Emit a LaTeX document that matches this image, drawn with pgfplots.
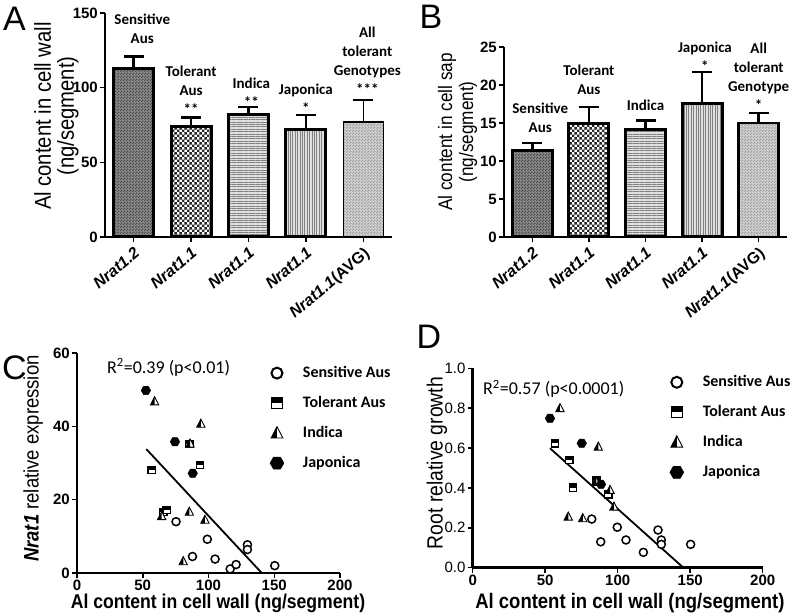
\documentclass[border=0pt]{standalone}
\usepackage{fontspec}
\setmainfont{Liberation Sans}
\newfontfamily\narrowfont[FakeStretch=0.88]{Liberation Sans}
\newfontfamily\calib{Carlito}
\usepackage{pgfplots}
\pgfplotsset{compat=1.18}
\usetikzlibrary{patterns,patterns.meta}

% checker patterns for the bars
\pgfdeclarepatternformonly{checkA}{\pgfpointorigin}{\pgfpoint{5.4pt}{5.4pt}}{\pgfpoint{5.4pt}{5.4pt}}{%
  \pgfpathrectangle{\pgfpointorigin}{\pgfpoint{2.7pt}{2.7pt}}%
  \pgfpathrectangle{\pgfpoint{2.7pt}{2.7pt}}{\pgfpoint{2.7pt}{2.7pt}}%
  \pgfusepath{fill}}
\pgfdeclarepatternformonly{checkfine}{\pgfpointorigin}{\pgfpoint{2.6pt}{2.6pt}}{\pgfpoint{2.6pt}{2.6pt}}{%
  \pgfpathrectangle{\pgfpointorigin}{\pgfpoint{1.3pt}{1.3pt}}%
  \pgfpathrectangle{\pgfpoint{1.3pt}{1.3pt}}{\pgfpoint{1.3pt}{1.3pt}}%
  \pgfusepath{fill}}

% scatter marks
\pgfdeclareplotmark{tolsq}{%
  \pgfsetfillcolor{white}%
  \pgfpathrectangle{\pgfpoint{-\pgfplotmarksize}{-\pgfplotmarksize}}{\pgfpoint{2\pgfplotmarksize}{2\pgfplotmarksize}}%
  \pgfusepathqfillstroke
  \pgfsetfillcolor{black}%
  \pgfpathrectangle{\pgfpoint{-\pgfplotmarksize}{0pt}}{\pgfpoint{2\pgfplotmarksize}{\pgfplotmarksize}}%
  \pgfusepathqfill}
\pgfdeclareplotmark{halftri}{%
  \pgfsetfillcolor{white}%
  \pgfpathmoveto{\pgfpoint{0pt}{\pgfplotmarksize}}%
  \pgfpathlineto{\pgfpoint{-0.9\pgfplotmarksize}{-0.75\pgfplotmarksize}}%
  \pgfpathlineto{\pgfpoint{0.9\pgfplotmarksize}{-0.75\pgfplotmarksize}}%
  \pgfpathclose
  \pgfusepathqfillstroke
  \pgfsetfillcolor{black}%
  \pgfpathmoveto{\pgfpoint{0pt}{\pgfplotmarksize}}%
  \pgfpathlineto{\pgfpoint{-0.9\pgfplotmarksize}{-0.75\pgfplotmarksize}}%
  \pgfpathlineto{\pgfpoint{0pt}{-0.75\pgfplotmarksize}}%
  \pgfpathclose
  \pgfusepathqfill}
\pgfdeclareplotmark{hexa}{%
  \pgfpathmoveto{\pgfpointpolar{0}{\pgfplotmarksize}}%
  \pgfpathlineto{\pgfpointpolar{60}{\pgfplotmarksize}}%
  \pgfpathlineto{\pgfpointpolar{120}{\pgfplotmarksize}}%
  \pgfpathlineto{\pgfpointpolar{180}{\pgfplotmarksize}}%
  \pgfpathlineto{\pgfpointpolar{240}{\pgfplotmarksize}}%
  \pgfpathlineto{\pgfpointpolar{300}{\pgfplotmarksize}}%
  \pgfpathclose
  \pgfusepathqfillstroke}

\tikzset{
  lbl/.style={anchor=south, align=center, inner sep=0pt,
    font=\calib\bfseries\fontsize{15}{19}\selectfont},
  letter/.style={inner sep=0pt, font=\fontsize{34}{34}\selectfont},
}

\pgfplotsset{
  panel/.style={
    scale only axis, anchor=south west, clip=false,
    axis lines*=left, axis line style={line width=2.5pt},
    tick align=outside, major tick length=5pt,
    tick style={line width=1.5pt, black},
    /pgf/number format/assume math mode=true,
    yticklabel style={font=\bfseries\fontsize{15}{15}\selectfont, inner sep=2pt},
  },
  barpanel/.style={panel,
    xmin=-0.5, xmax=4.5, xtick={0,...,4},
    xticklabels={\textit{Nrat1.2},\textit{Nrat1.1},\textit{Nrat1.1},\textit{Nrat1.1},\textit{Nrat1.1}(AVG)},
    xticklabel style={rotate=40, anchor=north east, inner sep=3pt,
      font=\bfseries\fontsize{16}{16}\selectfont},
    ybar, bar width=40pt, bar shift=0pt,
    ylabel style={anchor=center, align=center,
      font=\narrowfont\fontsize{23}{23}\selectfont},
    every axis plot/.append style={line width=3pt, draw=black},
    error bars/y dir=plus, error bars/y explicit,
    error bars/error bar style={line width=2.5pt},
    error bars/error mark options={rotate=90, mark size=10pt, line width=2.5pt},
  },
  scatpanel/.style={panel,
    xmin=0, xmax=200, xtick={0,50,100,150,200},
    xticklabel style={font=\bfseries\fontsize{15}{15}\selectfont, inner sep=2pt},
    xlabel style={anchor=center, font=\narrowfont\bfseries\fontsize{21}{21}\selectfont},
    ylabel style={anchor=center, font=\narrowfont\fontsize{22}{22}\selectfont},
    legend style={draw=none, fill=none, anchor=north west, inner sep=0pt,
      column sep=17pt, row sep=10pt,
      nodes={inner sep=2pt, text height=12pt, text depth=4pt},
      font=\calib\bfseries\fontsize{16}{16}\selectfont},
    legend cell align=left,
  },
  sens/.style={only marks, mark=*, mark size=4pt, mark options={fill=white, draw=black, line width=1.5pt}},
  tol/.style={only marks, mark=tolsq, mark size=3.7pt, mark options={draw=black, line width=1.1pt}},
  ind/.style={only marks, mark=halftri, mark size=4.6pt, mark options={draw=black, line width=0.9pt}},
  jap/.style={only marks, mark=hexa, mark size=4.8pt, mark options={fill=black, draw=black}},
}

\begin{document}
\begin{tikzpicture}
\path[use as bounding box] (0,0) rectangle (793pt,614pt);

% ---------------- A ----------------
\begin{axis}[barpanel, at={(105pt,377pt)}, width=287pt, height=224pt,
    ymin=0, ymax=150, ytick={0,50,100,150},
    ylabel={Al content in cell wall\\(ng/segment)},
    ylabel style={at={(axis description cs:-0.169,0.54)}}]
  \addplot[fill=black!45, postaction={pattern=checkfine, pattern color=black!72}]
    coordinates {(0,113) +- (0,8)};
  \addplot[fill=white, postaction={pattern=checkA, pattern color=black!85}]
    coordinates {(1,74.3) +- (0,5.7)};
  \addplot[fill=black!12, postaction={pattern={Lines[angle=0,distance=2.4pt,line width=1pt]}, pattern color=black!50}]
    coordinates {(2,81.7) +- (0,5.3)};
  \addplot[fill=black!12, postaction={pattern={Lines[angle=90,distance=2.4pt,line width=1pt]}, pattern color=black!50}]
    coordinates {(3,72.3) +- (0,9.4)};
  \addplot[line width=1.5pt, fill=black!18, postaction={pattern=checkfine, pattern color=black!38},
    error bars/error bar style={line width=1.3pt},
    error bars/error mark options={rotate=90, mark size=10pt, line width=1.3pt}]
    coordinates {(4,77) +- (0,14.7)};
  \node[lbl] at (axis cs:0.15,129.2) {Sensitive\\Aus};
  \node[lbl] at (axis cs:1,81.7) {Tolerant\\Aus\\**};
  \node[lbl] at (axis cs:2.05,86.4) {Indica\\**};
  \node[lbl] at (axis cs:3,82.4) {Japonica\\*};
  \node[lbl] at (axis cs:4.07,95.1) {All\\tolerant\\Genotypes\\***};
\end{axis}

% ---------------- B ----------------
\begin{axis}[barpanel, at={(504pt,377pt)}, width=283pt, height=190pt,
    ymin=0, ymax=25, ytick={0,5,10,15,20,25},
    ylabel={Al content in cell sap\\(ng/segment)},
    ylabel style={at={(axis description cs:-0.164,0.553)}, font=\narrowfont\fontsize{19.5}{21}\selectfont}]
  \addplot[fill=black!45, postaction={pattern=checkfine, pattern color=black!72}]
    coordinates {(0,11.4) +- (0,1.0)};
  \addplot[fill=white, postaction={pattern=checkA, pattern color=black!85}]
    coordinates {(1,14.9) +- (0,2.2)};
  \addplot[fill=black!12, postaction={pattern={Lines[angle=0,distance=2.4pt,line width=1pt]}, pattern color=black!50}]
    coordinates {(2,14.1) +- (0,1.2)};
  \addplot[fill=black!12, postaction={pattern={Lines[angle=90,distance=2.4pt,line width=1pt]}, pattern color=black!50}]
    coordinates {(3,17.6) +- (0,4.1)};
  \addplot[line width=2.5pt, fill=black!18, postaction={pattern=checkfine, pattern color=black!38}]
    coordinates {(4,15.0) +- (0,1.3)};
  \node[lbl] at (axis cs:0.14,13.7) {Sensitive\\Aus};
  \node[lbl] at (axis cs:1,18.7) {Tolerant\\Aus};
  \node[lbl] at (axis cs:2,16.6) {Indica};
  \node[lbl] at (axis cs:3.05,21.8) {Japonica\\*};
  \node[lbl] at (axis cs:4.0,16.6) {All\\tolerant\\Genotype\\*};
\end{axis}

% ---------------- C ----------------
\begin{axis}[scatpanel, at={(77pt,41pt)}, width=263pt, height=220pt,
    ymin=0, ymax=60, ytick={0,20,40,60},
    xlabel={Al content in cell wall (ng/segment)},
    xlabel style={at={(axis description cs:0.536,-0.136)}, font=\narrowfont\bfseries\fontsize{20}{20}\selectfont},
    ylabel={\textbf{\textit{Nrat1}} relative expression},
    ylabel style={at={(axis description cs:-0.167,0.52)}, font=\narrowfont\fontsize{21}{21}\selectfont},
    legend style={at={(axis description cs:0.733,0.955)}}]
  \addlegendimage{sens, mark size=5.5pt, mark options={fill=white, draw=black, line width=2pt}}
  \addlegendentry{Sensitive Aus}
  \addlegendimage{tol, mark size=5.5pt}
  \addlegendentry{Tolerant Aus}
  \addlegendimage{ind, mark size=6.5pt}
  \addlegendentry{Indica}
  \addlegendimage{jap, mark size=7pt}
  \addlegendentry{Japonica}
  \addplot[line width=1.8pt, black, forget plot] coordinates {(52.7,33.8) (140.5,0)};
  \addplot[sens, forget plot] coordinates {
    (75.3,14.0) (99.1,9.2) (87.8,4.5) (105,3.8) (116.5,1.1)
    (121,2.3) (129.6,7.7) (129.6,6.4) (150.4,2.0)};
  \addplot[tol, forget plot] coordinates {
    (56.8,28.1) (85.4,35.2) (93.5,29.5) (65.6,16.7) (68.2,17.2)};
  \addplot[ind, forget plot] coordinates {
    (59,46.8) (94.2,40.7) (86,35.3) (85.4,16.7) (97.3,14.5) (80.8,3.2) (64.4,15.5)};
  \addplot[jap, forget plot] coordinates {
    (52.4,49.8) (74.5,35.8) (88.0,27.2)};
  \node[anchor=base west, inner sep=0pt, font=\calib\fontsize{18}{18}\selectfont]
    at (axis cs:22.8,54.5) {R\textsuperscript{2}=0.39 (p<0.01)};
\end{axis}

% ---------------- D ----------------
\begin{axis}[scatpanel, at={(472.7pt,46.3pt)}, width=290pt, height=199.4pt,
    ymin=0, ymax=1, ytick={0,0.2,0.4,0.6,0.8,1.0},
    yticklabel style={font=\fontsize{15}{15}\selectfont,
      /pgf/number format/.cd, fixed, fixed zerofill, precision=1},
    xlabel={Al content in cell wall (ng/segment)},
    xlabel style={at={(axis description cs:0.542,-0.177)}},
    ylabel={Root relative growth},
    ylabel style={at={(axis description cs:-0.123,0.525)}},
    legend style={at={(axis description cs:0.679,0.981)}}]
  \addlegendimage{sens, mark size=5.5pt, mark options={fill=white, draw=black, line width=2pt}}
  \addlegendentry{Sensitive Aus}
  \addlegendimage{tol, mark size=5.5pt}
  \addlegendentry{Tolerant Aus}
  \addlegendimage{ind, mark size=6.5pt}
  \addlegendentry{Indica}
  \addlegendimage{jap, mark size=7pt}
  \addlegendentry{Japonica}
  \addplot[line width=1.8pt, black, forget plot] coordinates {(53.3,0.599) (145.3,0)};
  \addplot[sens, forget plot] coordinates {
    (82.1,0.244) (99.7,0.203) (88.3,0.13) (105.7,0.139) (117.7,0.077)
    (127.8,0.189) (130.1,0.139) (130.1,0.117) (150.3,0.117)};
  \addplot[tol, forget plot] coordinates {
    (56.8,0.624) (66.6,0.54) (69.0,0.401) (85.5,0.44) (93.5,0.368)};
  \addplot[ind, forget plot] coordinates {
    (60.2,0.80) (86.6,0.607) (85.3,0.43) (94.7,0.39) (97.4,0.306) (65.9,0.256) (75.9,0.248)};
  \addplot[jap, forget plot] coordinates {
    (53.3,0.749) (75.2,0.624) (88.5,0.418)};
  \node[anchor=base west, inner sep=0pt, font=\calib\fontsize{18}{18}\selectfont]
    at (axis cs:7.1,0.869) {R\textsuperscript{2}=0.57 (p<0.0001)};
\end{axis}

% panel letters
\node[letter] at (14.5pt,595.5pt) {A};
\node[letter] at (431pt,597.5pt) {B};
\node[letter] at (14.5pt,246.5pt) {C};
\node[letter] at (429pt,277.5pt) {D};
\end{tikzpicture}
\end{document}
